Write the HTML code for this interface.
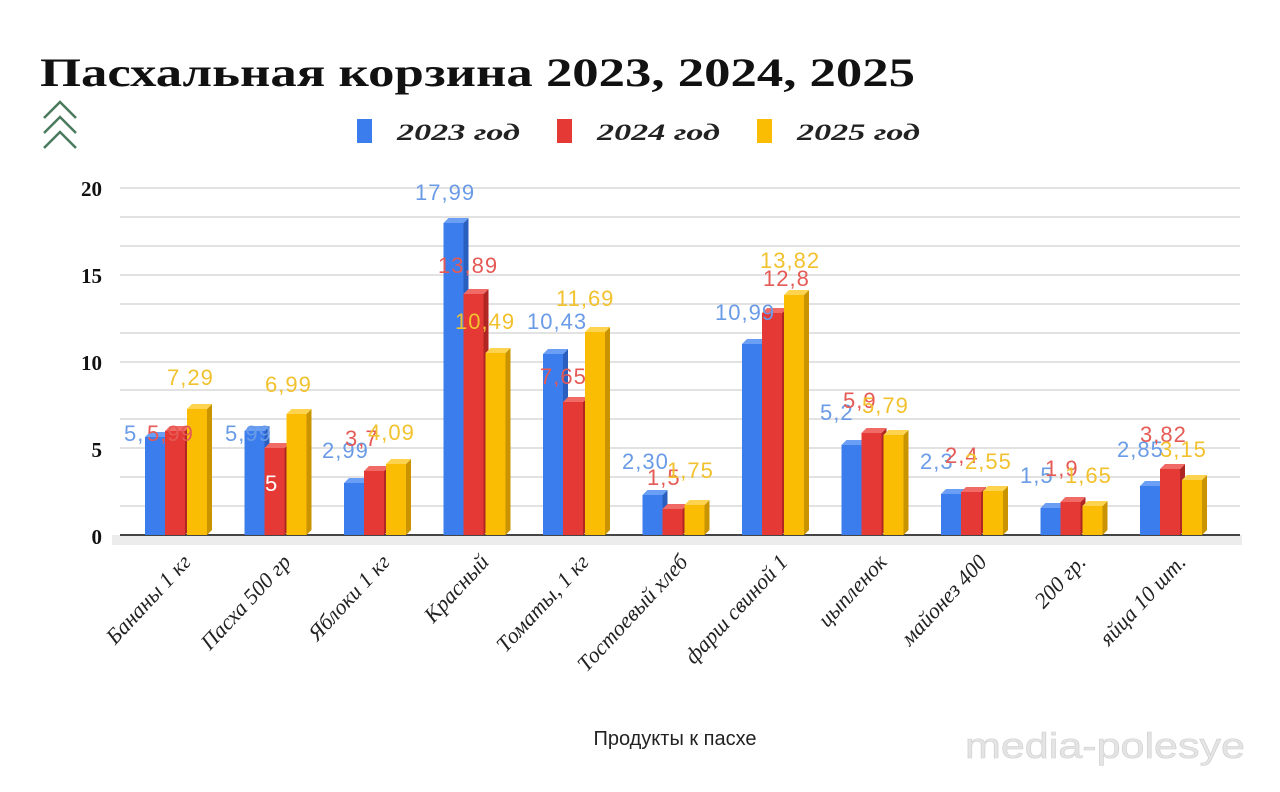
<!DOCTYPE html>
<html><head><meta charset="utf-8"><style>
body{margin:0;background:#fff;}
svg{display:block;}
</style></head><body>
<svg width="1280" height="792" xmlns="http://www.w3.org/2000/svg">
<rect width="1280" height="792" fill="#fff"/>
<text x="40" y="86" font-family="Liberation Serif, serif" font-weight="bold" font-size="40" fill="#111" textLength="875" lengthAdjust="spacingAndGlyphs">Пасхальная корзина 2023, 2024, 2025</text>
<g fill="none" stroke="#4a7a5e" stroke-width="2.5">
<polyline points="44,118 60,102 76,118"/><polyline points="44,133 60,117 76,133"/><polyline points="44,148 60,132 76,148"/>
</g>
<rect x="357" y="119" width="15" height="24" fill="#3b7ded"/>
<text x="397" y="140" font-family="Liberation Serif, serif" font-style="italic" font-weight="bold" font-size="23" fill="#222" textLength="123" lengthAdjust="spacingAndGlyphs">2023 год</text>
<rect x="557" y="119" width="15" height="24" fill="#e53935"/>
<text x="597" y="140" font-family="Liberation Serif, serif" font-style="italic" font-weight="bold" font-size="23" fill="#222" textLength="123" lengthAdjust="spacingAndGlyphs">2024 год</text>
<rect x="757" y="119" width="15" height="24" fill="#fbbc04"/>
<text x="797" y="140" font-family="Liberation Serif, serif" font-style="italic" font-weight="bold" font-size="23" fill="#222" textLength="123" lengthAdjust="spacingAndGlyphs">2025 год</text>
<g stroke="#d8d8d8" stroke-width="1.5">
<line x1="120" x2="1240" y1="188" y2="188"/><line x1="120" x2="1240" y1="217" y2="217"/><line x1="120" x2="1240" y1="246" y2="246"/><line x1="120" x2="1240" y1="275" y2="275"/><line x1="120" x2="1240" y1="304" y2="304"/><line x1="120" x2="1240" y1="333" y2="333"/><line x1="120" x2="1240" y1="362" y2="362"/><line x1="120" x2="1240" y1="390" y2="390"/><line x1="120" x2="1240" y1="419" y2="419"/><line x1="120" x2="1240" y1="448" y2="448"/><line x1="120" x2="1240" y1="477" y2="477"/><line x1="120" x2="1240" y1="506" y2="506"/>
</g>
<rect x="112" y="535" width="1130" height="10" fill="#ececec"/>
<line x1="120" x2="1240" y1="535" y2="535" stroke="#444" stroke-width="2"/>
<g font-family="Liberation Serif, serif" font-weight="bold" font-size="21" fill="#111" text-anchor="end">
<text x="102" y="196">20</text><text x="102" y="283">15</text><text x="102" y="370">10</text><text x="102" y="457">5</text><text x="102" y="544">0</text>
</g>
<g id="bars"></g>
<g font-family="Liberation Sans, sans-serif" font-size="22" letter-spacing="1">
<text x="124" y="441" fill="#6a9be6">5,</text><text x="147" y="441" fill="#e55a55">5,99</text><text x="167" y="385" fill="#f2c12e">7,29</text>
<text x="225" y="441" fill="#6a9be6">5,99</text><text x="265" y="491" fill="#fff">5</text><text x="265" y="392" fill="#f2c12e">6,99</text>
<text x="322" y="458" fill="#6a9be6">2,99</text><text x="345" y="446" fill="#e55a55">3,7</text><text x="368" y="440" fill="#f2c12e">4,09</text>
<text x="415" y="200" fill="#6a9be6">17,99</text><text x="438" y="273" fill="#e55a55">13,89</text><text x="455" y="329" fill="#f2c12e">10,49</text>
<text x="527" y="329" fill="#6a9be6">10,43</text><text x="540" y="384" fill="#e55a55">7,65</text><text x="556" y="306" fill="#f2c12e">11,69</text>
<text x="622" y="469" fill="#6a9be6">2,30</text><text x="647" y="485" fill="#e55a55">1,5</text><text x="667" y="478" fill="#f2c12e">1,75</text>
<text x="715" y="320" fill="#6a9be6">10,99</text><text x="763" y="286" fill="#e55a55">12,8</text><text x="760" y="268" fill="#f2c12e">13,82</text>
<text x="820" y="420" fill="#6a9be6">5,2</text><text x="843" y="408" fill="#e55a55">5,9</text><text x="862" y="413" fill="#f2c12e">5,79</text>
<text x="920" y="469" fill="#6a9be6">2,3</text><text x="945" y="463" fill="#e55a55">2,4</text><text x="965" y="469" fill="#f2c12e">2,55</text>
<text x="1020" y="483" fill="#6a9be6">1,5</text><text x="1045" y="476" fill="#e55a55">1,9</text><text x="1065" y="483" fill="#f2c12e">1,65</text>
<text x="1117" y="457" fill="#6a9be6">2,85</text><text x="1140" y="442" fill="#e55a55">3,82</text><text x="1160" y="457" fill="#f2c12e">3,15</text>
</g>
<g font-family="Liberation Serif, serif" font-style="italic" font-size="22" fill="#222" text-anchor="end">
<text transform="translate(192,563) rotate(-47)">Бананы 1 кг</text>
<text transform="translate(292,563) rotate(-47)">Пасха 500 гр</text>
<text transform="translate(391,563) rotate(-47)">Яблоки 1 кг</text>
<text transform="translate(490,563) rotate(-47)">Красный</text>
<text transform="translate(590,563) rotate(-47)">Томаты, 1 кг</text>
<text transform="translate(689,563) rotate(-47)">Тостоевый хлеб</text>
<text transform="translate(789,563) rotate(-47)">фарш свиной 1</text>
<text transform="translate(888,563) rotate(-47)">цыпленок</text>
<text transform="translate(988,563) rotate(-47)">майонез 400</text>
<text transform="translate(1087,563) rotate(-47)">200 гр.</text>
<text transform="translate(1187,563) rotate(-47)">яйца 10 шт.</text>
</g>
<text x="675" y="745" text-anchor="middle" font-family="Liberation Sans, sans-serif" font-size="20" fill="#222">Продукты к пасхе</text>
<text x="965" y="758" font-family="Liberation Sans, sans-serif" font-size="36" fill="#e4e4e4" stroke="#d0d0d0" stroke-width="0.6" textLength="280" lengthAdjust="spacingAndGlyphs">media-polesye</text>
</svg>
<script>
var H=[[98,104,126],[104,87,121],[52,64,71],[312,241,182],[181,133,203],[40,26,30],[191,222,240],[90,102,100],[41,43,44],[27,33,29],[49,66,55]];
var C=[["#3b7ded","#2a5fc0","#6a9ff5"],["#e53935","#b02622","#f06a66"],["#fbbc04","#c99400","#fdd34f"]];
var off=[-30,-10,12],s="";
for(var i=0;i<11;i++){var c=175+99.5*i;for(var k=0;k<3;k++){var x=c+off[k],h=H[i][k],y=535-h,col=C[k];
s+='<polygon points="'+(x+20)+','+y+' '+(x+25)+','+(y-5)+' '+(x+25)+','+530+' '+(x+20)+',535" fill="'+col[1]+'"/>';
s+='<polygon points="'+x+','+y+' '+(x+5)+','+(y-5)+' '+(x+25)+','+(y-5)+' '+(x+20)+','+y+'" fill="'+col[2]+'"/>';
s+='<rect x="'+x+'" y="'+y+'" width="20" height="'+h+'" fill="'+col[0]+'"/>';}}
document.getElementById("bars").innerHTML=s;
</script>
</body></html>
